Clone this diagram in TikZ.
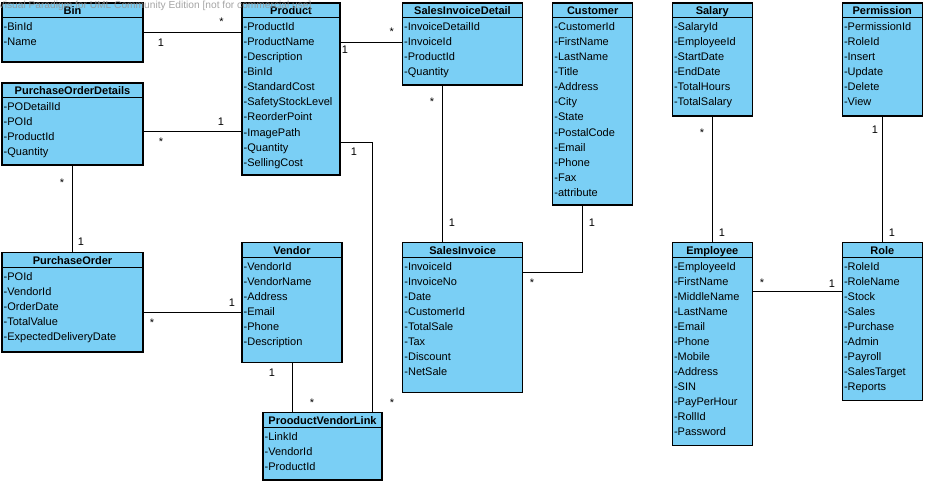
\documentclass[tikz,border=0pt]{standalone}
\usepackage{fontspec}
\setmainfont{Liberation Sans}
\definecolor{vpblue}{RGB}{122,207,245}
\definecolor{wmgray}{RGB}{150,150,150}
\tikzset{
  classbox/.style={draw=black, line width=1.2pt, fill=vpblue, anchor=north west, inner sep=0pt, outer sep=0pt},
  boxline/.style={draw=black, line width=1pt},
  titletext/.style={font=\fontsize{11}{13}\selectfont\bfseries, anchor=base, inner sep=0pt},
  attrtext/.style={font=\fontsize{11}{13}\selectfont, anchor=base west, inner sep=0pt},
  conn/.style={draw=black, line width=1pt},
  mult/.style={font=\fontsize{11}{13}\selectfont, anchor=base, inner sep=0pt},
  watermark/.style={font=\fontsize{10.2}{12}\selectfont, text=wmgray, anchor=base west, inner sep=0pt, opacity=0.85}
}
\newcommand\umlclass[7]{%
  \node[classbox, minimum width=#4, minimum height=#5] (#1) at (#2,#3) {};
  \draw[boxline] ([yshift=-15pt]#1.north west) -- ([yshift=-15pt]#1.north east);
  \node[titletext] (#1-title) at ([yshift=-12pt]#1.north) {#6};
  \foreach \a [count=\i from 0] in {#7}
    \node[attrtext] (#1-a\i) at ([xshift=1.5pt, yshift={-(28+15*\i)*1pt}]#1.north west) {-\a};
}
\begin{document}
\begin{tikzpicture}[x=1pt, y=-1pt]
\useasboundingbox (0,0) rectangle (926,484);
\fill[white] (0,0) rectangle (926,484);

\umlclass{bin}{2}{3}{141}{59}{Bin}{BinId,Name}
\umlclass{product}{242}{3}{98}{172}{Product}{ProductId,ProductName,Description,BinId,StandardCost,SafetyStockLevel,ReorderPoint,ImagePath,Quantity,SellingCost}
\umlclass{sid}{402.5}{3}{120}{82}{SalesInvoiceDetail}{InvoiceDetailId,InvoiceId,ProductId,Quantity}
\umlclass{customer}{552.7}{3}{80}{202}{Customer}{CustomerId,FirstName,LastName,Title,Address,City,State,PostalCode,Email,Phone,Fax,attribute}
\umlclass{salary}{672.3}{3}{80}{113}{Salary}{SalaryId,EmployeeId,StartDate,EndDate,TotalHours,TotalSalary}
\umlclass{permission}{842.3}{3}{80}{113}{Permission}{PermissionId,RoleId,Insert,Update,Delete,View}
\umlclass{pod}{2}{83}{141}{82}{PurchaseOrderDetails}{PODetailId,POId,ProductId,Quantity}
\umlclass{po}{2}{252.7}{141}{99.3}{PurchaseOrder}{POId,VendorId,OrderDate,TotalValue,ExpectedDeliveryDate}
\umlclass{vendor}{242}{242.3}{100}{120}{Vendor}{VendorId,VendorName,Address,Email,Phone,Description}
\umlclass{pvl}{263}{412.7}{119}{67.3}{ProoductVendorLink}{LinkId,VendorId,ProductId}
\umlclass{si}{402.7}{242.3}{120}{150}{SalesInvoice}{InvoiceId,InvoiceNo,Date,CustomerId,TotalSale,Tax,Discount,NetSale}
\umlclass{employee}{672.3}{242.3}{80}{203.4}{Employee}{EmployeeId,FirstName,MiddleName,LastName,Email,Phone,Mobile,Address,SIN,PayPerHour,RollId,Password}
\umlclass{role}{842.3}{242.3}{80}{158}{Role}{RoleId,RoleName,Stock,Sales,Purchase,Admin,Payroll,SalesTarget,Reports}

% connectors
\draw[conn] (bin.east) -- (bin.east -| product.west);
\draw[conn] ([yshift=-8pt]pod.east) -- ([yshift=-8pt]pod.east -| product.west);
\draw[conn] (pod.south) -- (pod.south |- po.north);
\draw[conn] ([yshift=-10.4pt]po.east) -- ([yshift=-10.4pt]po.east -| vendor.west);
\draw[conn] (vendor.south) -- (vendor.south |- pvl.north);
\draw[conn] ([yshift=-53.3pt]product.east) -| ([xshift=-9.7pt]pvl.north east);
\draw[conn] ([yshift=1.7pt]sid.west) -- ([yshift=1.7pt]sid.west -| product.east);
\draw[conn] ([xshift=-19.8pt]sid.south) -- ([xshift=-19.8pt]sid.south |- si.north);
\draw[conn] ([xshift=-10.4pt]customer.south) |- ([yshift=45.3pt]si.east);
\draw[conn] (salary.south) -- (salary.south |- employee.north);
\draw[conn] (permission.south) -- (permission.south |- role.north);
\draw[conn] ([yshift=29.6pt]role.west) -- ([yshift=29.6pt]role.west -| employee.east);

% multiplicities
\node[mult] (m1) at (221.5,26) {*};
\node[mult] (m2) at (161,47) {1};
\node[mult] (m3) at (221,126) {1};
\node[mult] (m4) at (161,146) {*};
\node[mult] (m5) at (62,186) {*};
\node[mult] (m6) at (81,245) {1};
\node[mult] (m7) at (232,306) {1};
\node[mult] (m8) at (152,326) {*};
\node[mult] (m9) at (272,376) {1};
\node[mult] (m10) at (312,406) {*};
\node[mult] (m11) at (354,155) {1};
\node[mult] (m12) at (392,406) {*};
\node[mult] (m13) at (345,54) {1};
\node[mult] (m14) at (391.7,36) {*};
\node[mult] (m15) at (432,106) {*};
\node[mult] (m16) at (452,226) {1};
\node[mult] (m17) at (592,226) {1};
\node[mult] (m18) at (532,286) {*};
\node[mult] (m19) at (702,136) {*};
\node[mult] (m20) at (722,236) {1};
\node[mult] (m21) at (875,134) {1};
\node[mult] (m22) at (892,236) {1};
\node[mult] (m23) at (762,286) {*};
\node[mult] (m24) at (832,287) {1};

% watermark
\node[watermark] (wm) at (-2,9) {Visual Paradigm for UML Community Edition [not for commercial use]};
\end{tikzpicture}
\end{document}
